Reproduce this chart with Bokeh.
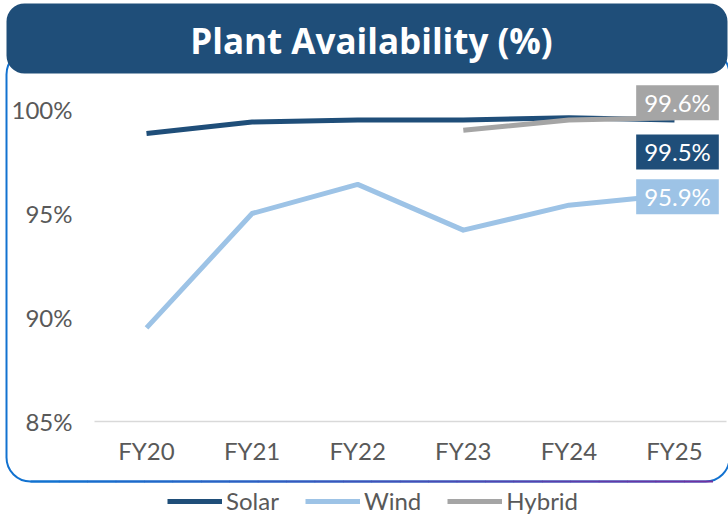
from bokeh.plotting import figure
from bokeh.models import (Range1d, FixedTicker, PrintfTickFormatter, Legend, LegendItem,
                          BoxAnnotation, Label, LinearAxis)
from bokeh.embed import file_html
from bokeh.resources import INLINE

# ---- data ----
years = ["FY20", "FY21", "FY22", "FY23", "FY24", "FY25"]
solar = [98.85, 99.4, 99.5, 99.5, 99.6, 99.5]
wind = [89.5, 95.0, 96.4, 94.2, 95.4, 95.9]
hybrid_years = ["FY23", "FY24", "FY25"]
hybrid = [99.0, 99.5, 99.6]
y_ticks = [85, 90, 95, 100]
title_text = "Plant Availability (%)"
series_names = ["Solar", "Wind", "Hybrid"]

C_SOLAR = "#1F4E79"
C_WIND = "#9DC3E6"
C_HYBRID = "#A5A5A5"
TXT = "#595959"
FONT = "Lato"

W, H = 728, 516
# pixel layout of the data area
X0, DX = 146.0, 105.6      # screen x of first category, spacing
Y100, DY = 109.0, 20.8     # screen y of 100 %, pixels per percent

xs = list(range(len(years)))
hx = [years.index(y) for y in hybrid_years]

x_range = Range1d(-X0 / DX, (W - X0) / DX)
y_range = Range1d(100 - (H - Y100) / DY, 100 + Y100 / DY)

p = figure(width=W, height=H, x_range=x_range, y_range=y_range,
           output_backend="svg", toolbar_location=None,
           x_axis_location=None, y_axis_location=None,
           min_border=0)
p.outline_line_color = None
p.background_fill_color = "white"
p.border_fill_color = "white"
p.xgrid.grid_line_color = None
p.ygrid.grid_line_color = None

frame_left = (94 - X0) / DX
frame_right = (726 - X0) / DX

# axes pinned inside the full-canvas frame
yax = LinearAxis(fixed_location=frame_left, ticker=FixedTicker(ticks=y_ticks),
                 formatter=PrintfTickFormatter(format="%d%%"),
                 axis_line_color=None, major_tick_line_color=None, minor_tick_line_color=None,
                 major_label_standoff=16, major_label_text_font=FONT,
                 major_label_text_font_size="24px", major_label_text_color=TXT)
p.add_layout(yax, "left")

xax = LinearAxis(fixed_location=y_ticks[0], ticker=FixedTicker(ticks=xs),
                 major_label_overrides={i: years[i] for i in xs},
                 bounds=(frame_left, frame_right),
                 axis_line_color="#D9D9D9", axis_line_width=1.5,
                 major_tick_line_color=None, minor_tick_line_color=None,
                 major_label_standoff=8, major_label_text_font=FONT,
                 major_label_text_font_size="24px", major_label_text_color=TXT)
p.add_layout(xax, "below")

# frame box with rounded corners
box = BoxAnnotation(left=6, right=729, top=50, bottom=481,
                    left_units="canvas", right_units="canvas",
                    top_units="canvas", bottom_units="canvas",
                    fill_alpha=0, fill_color=None,
                    line_color="#1272D0", line_alpha=1, line_width=2,
                    border_radius=24, level="underlay")
p.add_layout(box)

# gradient on bottom edge
n = 24
gx0, gx1 = 30, 712
c0 = (0x12, 0x72, 0xD0)
c1 = (0x70, 0x30, 0xA0)
for i in range(n):
    t = i / (n - 1)
    col = "#%02x%02x%02x" % tuple(int(round(a + (b - a) * t)) for a, b in zip(c0, c1))
    seg = BoxAnnotation(left=gx0 + (gx1 - gx0) * i / n, right=gx0 + (gx1 - gx0) * (i + 1) / n + 0.5,
                        top=480, bottom=482,
                        left_units="canvas", right_units="canvas",
                        top_units="canvas", bottom_units="canvas",
                        fill_color=col, fill_alpha=1, line_color=None, level="underlay")
    p.add_layout(seg)

# title banner
banner = BoxAnnotation(left=6, right=727, top=3, bottom=73,
                       left_units="canvas", right_units="canvas",
                       top_units="canvas", bottom_units="canvas",
                       fill_color=C_SOLAR, fill_alpha=1, line_color=None,
                       border_radius=18)
p.add_layout(banner)
title = Label(x=371, y=40, x_units="canvas", y_units="canvas", text=title_text,
              text_align="center", text_baseline="middle", text_color="white",
              text_font="Open Sans", text_font_style="bold", text_font_size="35px")
p.add_layout(title)

# lines
r_solar = p.line(xs, solar, line_color=C_SOLAR, line_width=5, line_join="round")
r_wind = p.line(xs, wind, line_color=C_WIND, line_width=5, line_join="round")
r_hyb = p.line(hx, hybrid, line_color=C_HYBRID, line_width=5, line_join="round")

# data labels for the last point
def end_label(xv, yv, color, dy):
    lab = Label(x=xv, y=yv, text="%.1f%%" % yv, x_offset=3, y_offset=dy,
                text_align="center", text_baseline="middle", text_color="white",
                text_font=FONT, text_font_size="24px",
                background_fill_color=color, background_fill_alpha=1,
                padding=dict(left=8, right=8, top=3, bottom=3))
    p.add_layout(lab)

end_label(hx[-1], hybrid[-1], C_HYBRID, 15)
end_label(xs[-1], solar[-1], C_SOLAR, -32)
end_label(xs[-1], wind[-1], C_WIND, -2)

legend = Legend(items=[LegendItem(label=series_names[0], renderers=[r_solar]),
                       LegendItem(label=series_names[1], renderers=[r_wind]),
                       LegendItem(label=series_names[2], renderers=[r_hyb])],
                orientation="horizontal", location=(167, 1),
                glyph_width=55, glyph_height=24, label_height=24,
                label_standoff=4, spacing=26, padding=0, margin=0,
                label_text_font=FONT, label_text_font_size="24px", label_text_color=TXT,
                border_line_color=None, background_fill_alpha=0)
p.add_layout(legend)

open("out.html", "w").write(file_html(p, INLINE))
